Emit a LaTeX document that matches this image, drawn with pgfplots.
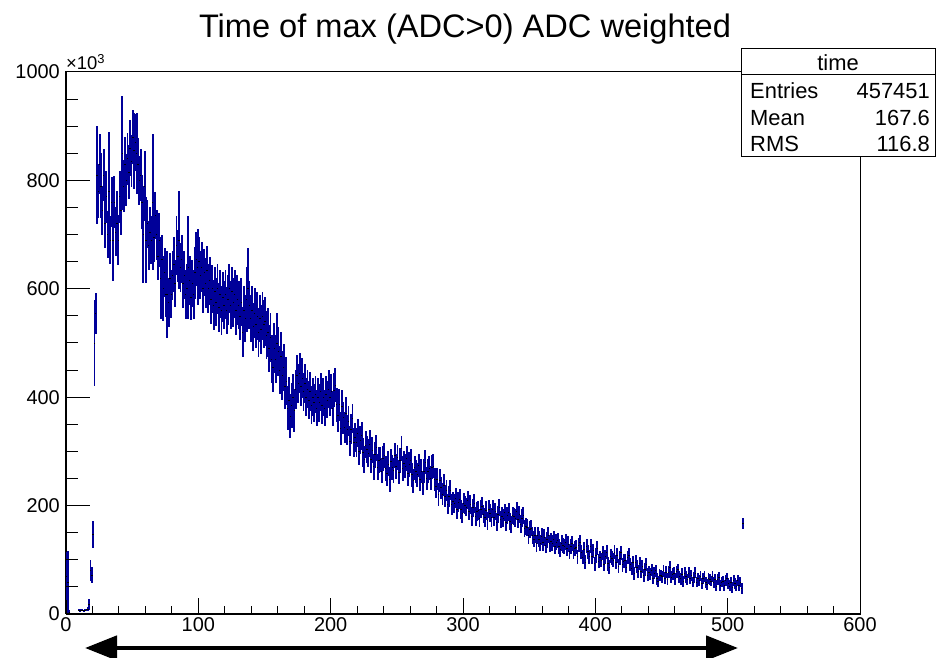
\documentclass[border=0pt]{standalone}
\usepackage{fontspec}
\setmainfont{Liberation Sans}
\usepackage{pgfplots}
\pgfplotsset{compat=1.18}
\usepackage{pgfplotstable}
\usetikzlibrary{arrows.meta}
\definecolor{rootblue}{RGB}{0,0,153}
\pgfplotstableread[row sep=\\]{
x y e\\
0 70 45\\1 58 58\\2 4 4\\9 7 2\\10 6 2\\11 7 2\\12 7 2\\13 6 2\\14 7 2\\15 8 2\\16 9 3\\17 18 10\\18 80 20\\19 72 15\\20 147 25\\21 500 80\\22 555 38\\
23 810 90\\24 780 50\\25 830 55\\26 790 60\\27 745 45\\28 810 48\\29 720 45\\30 770 48\\31 700 44\\32 780 110\\33 690 45\\34 760 46\\35 690 75\\36 760 48\\37 705 45\\38 720 60\\39 690 46\\40 770 48\\41 745 45\\42 850 105\\43 790 48\\44 830 50\\45 800 48\\46 840 48\\47 815 50\\48 860 52\\49 835 48\\50 880 50\\51 855 70\\52 870 52\\53 850 75\\54 830 48\\55 800 45\\56 810 48\\57 760 50\\58 700 90\\59 790 65\\60 690 80\\61 720 44\\62 680 46\\63 705 45\\64 690 44\\65 760 125\\66 695 45\\67 735 44\\68 700 46\\69 660 44\\70 690 50\\71 620 75\\72 655 44\\73 600 60\\74 630 45\\75 590 42\\76 590 80\\77 575 45\\78 620 46\\79 590 44\\80 625 45\\81 645 50\\82 610 44\\83 680 55\\84 660 48\\85 690 90\\86 640 45\\87 655 44\\88 610 46\\89 625 44\\90 590 45\\91 600 46\\92 640 95\\93 615 45\\94 585 43\\95 610 44\\96 590 45\\97 630 48\\98 655 50\\99 640 70\\
100 650 45\\101 625 44\\102 640 46\\103 600 45\\104 630 44\\105 610 46\\106 635 44\\107 600 45\\108 615 44\\109 580 45\\110 600 44\\111 570 46\\112 595 45\\113 575 44\\114 600 46\\115 565 45\\116 590 44\\117 560 45\\118 585 46\\119 570 44\\120 590 45\\121 560 44\\122 580 46\\123 600 45\\124 570 44\\125 595 46\\126 575 45\\127 590 44\\128 560 45\\129 580 46\\130 570 44\\131 550 45\\132 575 44\\133 520 46\\134 560 45\\135 545 44\\136 580 60\\137 600 75\\138 570 45\\139 545 44\\140 560 45\\141 530 44\\142 555 46\\143 535 45\\144 550 44\\145 520 45\\146 545 44\\147 525 46\\148 550 45\\149 535 44\\150 540 45\\151 515 44\\152 520 45\\153 490 44\\154 510 45\\155 470 44\\156 455 45\\157 490 46\\158 470 44\\159 500 55\\160 485 45\\161 450 44\\162 475 46\\163 440 45\\164 455 44\\165 420 42\\166 430 44\\167 380 40\\168 395 42\\169 365 40\\170 385 41\\171 400 42\\172 375 40\\173 415 36\\174 440 37\\175 425 36\\176 445 37\\177 420 36\\178 435 37\\179 410 35\\180 425 36\\181 400 35\\182 415 35\\183 395 35\\184 410 36\\185 385 35\\186 400 35\\187 390 35\\188 405 35\\189 380 34\\190 400 35\\191 390 35\\192 410 35\\193 385 34\\194 400 35\\195 380 34\\196 405 35\\197 395 34\\198 415 35\\199 400 34\\
200 411 32\\201 379 32\\202 413 32\\203 422 31\\204 386 31\\205 366 31\\206 386 30\\207 342 30\\208 383 30\\209 362 29\\210 344 29\\211 371 29\\212 340 28\\213 356 28\\214 319 28\\215 341 28\\216 361 27\\217 317 27\\218 326 27\\219 317 27\\220 334 26\\221 301 26\\222 321 26\\223 329 26\\224 298 26\\225 285 25\\226 312 25\\227 303 25\\228 297 25\\229 314 25\\230 285 24\\231 302 24\\232 272 24\\233 294 24\\234 307 24\\235 271 24\\236 284 24\\
237 285 23\\238 264 23\\239 287 23\\240 293 23\\241 269 23\\242 259 23\\243 277 23\\244 249 23\\245 281 23\\246 271 23\\247 265 23\\248 292 23\\249 272 23\\250 289 23\\251 262 23\\252 284 23\\253 305 23\\254 269 23\\255 278 23\\256 273 23\\257 287 23\\258 259 23\\259 276 23\\260 283 22\\261 257 22\\262 246 22\\263 270 22\\264 263 22\\265 257 22\\266 274 22\\267 249 22\\268 264 22\\269 241 22\\270 264 22\\271 280 22\\272 250 22\\273 264 22\\
274 269 22\\275 251 22\\276 271 22\\277 273 22\\278 248 21\\279 235 21\\280 249 21\\281 221 21\\282 247 21\\283 233 20\\284 221 20\\285 238 20\\286 218 20\\287 228 19\\288 203 19\\289 217 19\\290 229 19\\291 202 19\\292 208 18\\293 204 18\\294 214 18\\295 194 18\\296 207 18\\297 212 18\\298 193 18\\299 186 18\\300 205 18\\301 201 17\\302 197 17\\303 210 17\\304 190 17\\305 202 17\\306 180 17\\307 196 17\\308 204 17\\309 180 17\\310 189 17\\
311 191 17\\312 177 17\\313 194 17\\314 199 17\\315 184 17\\316 178 17\\317 191 17\\318 172 17\\319 194 17\\320 186 17\\321 178 17\\322 194 17\\323 179 16\\324 189 16\\325 170 16\\326 184 16\\327 197 16\\328 174 16\\329 181 16\\330 177 16\\331 187 16\\332 170 16\\333 182 16\\334 188 16\\335 171 16\\336 165 16\\337 182 16\\338 180 16\\339 177 16\\340 190 16\\341 174 16\\342 184 16\\343 166 16\\344 177 16\\345 182 16\\346 158 16\\347 161 16\\
348 160 16\\349 145 15\\350 156 15\\351 158 15\\352 145 15\\353 138 15\\354 146 15\\355 130 15\\356 145 15\\357 138 15\\358 131 15\\359 143 15\\360 132 15\\361 141 15\\362 127 15\\363 137 15\\364 146 15\\365 130 15\\366 134 15\\367 131 15\\368 138 15\\369 124 14\\370 133 14\\371 136 14\\372 124 14\\373 119 14\\374 131 14\\375 127 14\\376 124 14\\377 133 14\\378 121 14\\379 129 14\\380 116 14\\381 125 14\\382 130 14\\383 116 14\\384 121 14\\
385 123 13\\386 106 13\\387 127 13\\388 133 13\\389 114 13\\390 105 13\\391 120 13\\392 96 13\\393 125 13\\394 115 13\\395 106 13\\396 125 13\\397 106 13\\398 117 13\\399 93 13\\400 108 13\\401 121 13\\402 97 13\\403 104 13\\404 99 13\\405 113 13\\406 92 13\\407 106 13\\408 114 13\\409 93 13\\410 87 13\\411 107 13\\412 103 13\\413 100 13\\414 114 13\\415 96 13\\416 108 13\\417 88 13\\418 103 13\\419 113 13\\420 91 13\\421 98 13\\
422 99 12\\423 87 12\\424 104 12\\425 109 12\\426 92 12\\427 84 12\\428 95 12\\429 75 12\\430 96 12\\431 87 12\\432 79 12\\433 94 12\\434 79 12\\435 88 12\\436 71 12\\437 82 12\\438 91 12\\439 72 12\\440 77 12\\441 74 11\\442 81 11\\443 66 11\\444 75 11\\445 80 11\\446 65 11\\447 60 11\\448 72 11\\449 71 11\\450 69 11\\451 80 11\\452 66 11\\453 77 11\\454 64 11\\455 77 11\\456 86 11\\457 68 11\\458 74 11\\
459 75 11\\460 65 11\\461 78 11\\462 82 11\\463 69 11\\464 65 11\\465 74 11\\466 60 11\\467 75 11\\468 69 11\\469 64 10\\470 76 10\\471 66 10\\472 71 10\\473 59 10\\474 68 10\\475 76 10\\476 59 10\\477 65 10\\478 62 10\\479 70 10\\480 57 10\\481 65 10\\482 69 10\\483 58 10\\484 54 10\\485 66 10\\486 64 10\\487 61 10\\488 69 10\\489 58 10\\490 64 10\\491 52 10\\492 64 10\\493 67 10\\494 53 10\\495 59 10\\
496 61 10\\497 53 10\\498 62 10\\499 66 10\\500 56 10\\501 52 10\\502 59 10\\503 49 10\\504 62 10\\505 56 10\\506 52 10\\507 62 10\\508 53 10\\509 59 10\\510 47 10\\511 167 10\\
}\histdata
\begin{document}
\begin{tikzpicture}
\begin{axis}[
  at={(0,0)}, anchor=south west, scale only axis,
  width=794bp, height=542bp,
  xmin=0, xmax=600, ymin=0, ymax=1000,
  xtick={0,100,...,600}, minor x tick num=4, ytick=\empty,
  xtick pos=bottom, tick align=inside,
  major tick length=16.3bp, minor tick length=8.1bp,
  axis line style={line width=1bp},
  tick style={black, line width=1bp},
  /pgf/number format/assume math mode=true,
  xticklabel style={font=\fontsize{20}{24}\selectfont, inner sep=0pt, yshift=-3.5bp},
]
\addplot[only marks, mark=-, mark size=0.7bp, mark options={black, line width=0.6bp},
  error bars/.cd, y dir=both, y explicit, error mark=none,
  error bar style={rootblue, line width=1.9bp}]
  table[x expr=\thisrow{x}+0.5, y=y, y error=e] {\histdata};
\end{axis}
\begin{axis}[
  at={(0,0)}, anchor=south west, scale only axis,
  width=794bp, height=542bp,
  xmin=0, xmax=600, ymin=0, ymax=1000,
  ytick={0,200,...,1000}, minor y tick num=3, xtick=\empty,
  ytick pos=left, tick align=inside,
  major tick length=23.8bp, minor tick length=11.9bp,
  axis line style={line width=1bp},
  tick style={black, line width=1bp},
  /pgf/number format/assume math mode=true,
  /pgf/number format/set thousands separator={},
  yticklabel style={font=\fontsize{20}{24}\selectfont, inner sep=0pt, xshift=-6bp},
]
\end{axis}
\node[anchor=base, font=\fontsize{32.7}{38}\selectfont] at (399bp,576bp) {Time of max (ADC>0) ADC weighted};
\node[anchor=base west, inner sep=0pt, font=\fontsize{18.5}{22}\selectfont] at (0bp,544bp) {×10\textsuperscript{3}};
\draw[fill=white, line width=1bp] (675bp,457bp) rectangle (869bp,565bp);
\draw[line width=1bp] (675bp,539bp) -- (869bp,539bp);
\begin{scope}[font=\fontsize{22}{26}\selectfont]
\node[anchor=base, inner sep=0pt] at (772bp,543bp) {time};
\node[anchor=base west, inner sep=0pt] at (684bp,515bp) {Entries};
\node[anchor=base east, inner sep=0pt] at (864bp,515bp) {457451};
\node[anchor=base west, inner sep=0pt] at (684bp,488bp) {Mean};
\node[anchor=base east, inner sep=0pt] at (864bp,488bp) {167.6};
\node[anchor=base west, inner sep=0pt] at (684bp,462bp) {RMS};
\node[anchor=base east, inner sep=0pt] at (864bp,462bp) {116.8};
\end{scope}
\draw[line width=4.5bp, {Triangle[length=32bp,width=24bp]}-{Triangle[length=32bp,width=24bp]}] (19bp,-34bp) -- (672bp,-34bp);
\pgfresetboundingbox
\path (-66bp,-44bp) rectangle (871bp,614bp);
\end{tikzpicture}
\end{document}
